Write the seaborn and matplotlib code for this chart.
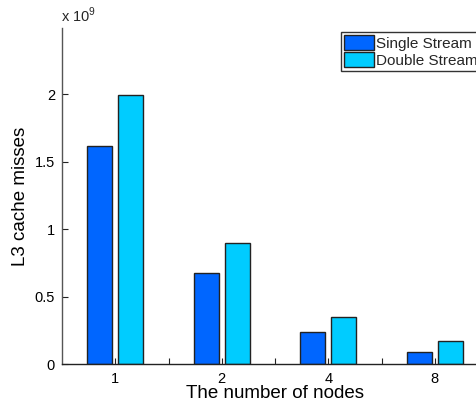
import matplotlib
matplotlib.use("Agg")
import matplotlib.pyplot as plt
import seaborn as sns
import pandas as pd
from matplotlib.ticker import FixedLocator

nodes = ["1", "2", "4", "8"]
single_stream = [1.613, 0.678, 0.234, 0.091]   # x 1e9
double_stream = [1.99, 0.893, 0.350, 0.168]    # x 1e9
series_names = ["Single Stream", "Double Stream"]
colors = ["#0066FF", "#00CCFF"]
y_ticks = [0, 0.5, 1, 1.5, 2]
y_tick_labels = ["0", "0.5", "1", "1.5", "2"]

sns.set_theme(style="white")
plt.rcParams["font.family"] = ["Liberation Sans", "DejaVu Sans"]
plt.rcParams["mathtext.fontset"] = "custom"
plt.rcParams["mathtext.rm"] = "Liberation Sans"

df = pd.DataFrame({
    "nodes": nodes * 2,
    "value": single_stream + double_stream,
    "series": [series_names[0]] * len(nodes) + [series_names[1]] * len(nodes),
})

fig = plt.figure(figsize=(4.77, 4.01), dpi=100)
ax = fig.add_axes([62 / 477, 37 / 401, 426 / 477, 336 / 401])

sns.barplot(data=df, x="nodes", y="value", hue="series", order=nodes,
            hue_order=series_names, palette=colors, width=0.58, gap=0.2,
            edgecolor="#222222", linewidth=1.0, saturation=1, ax=ax, legend=True)

ax.set_xlim(-0.5, 3.5)
ax.set_ylim(0, 2.49)
ax.set_yticks(y_ticks)
ax.set_yticklabels(y_tick_labels)
ax.xaxis.set_minor_locator(FixedLocator([0.5, 1.5, 2.5]))
ax.tick_params(axis="both", which="both", direction="in", length=4, width=0.8,
               colors="#222222", labelsize=10.5, labelcolor="black")
ax.tick_params(axis="x", which="major", pad=6, bottom=True)
ax.tick_params(axis="x", which="minor", bottom=True, length=4)
ax.tick_params(axis="y", left=True, pad=5)

for s in ["top", "right"]:
    ax.spines[s].set_visible(False)
ax.spines["left"].set_color("#555555")
ax.spines["bottom"].set_color("#222222")
ax.spines["left"].set_linewidth(1.0)
ax.spines["bottom"].set_linewidth(1.0)

ax.set_xlabel("The number of nodes", fontsize=13.5, labelpad=-1, color="black")
ax.set_ylabel("L3 cache misses", fontsize=13.5, labelpad=4, color="black",
              family=["Liberation Sans Narrow", "Liberation Sans", "DejaVu Sans"])

fig.text(61 / 477, 1 - 22 / 401, r"x 10$^{9}$", fontsize=10.5, ha="left", va="baseline")

leg = ax.legend(loc="upper left", bbox_to_anchor=(341 / 477, 1 - 32 / 401),
                bbox_transform=fig.transFigure, fontsize=11, frameon=True,
                fancybox=False, shadow=False, handlelength=1.95, handleheight=1.1,
                handletextpad=0.15, borderpad=0.2, labelspacing=0.1,
                borderaxespad=0, title=None)
leg.get_frame().set_edgecolor("black")
leg.get_frame().set_linewidth(1.0)
for h in leg.legend_handles:
    h.set_edgecolor("#222222")
    h.set_linewidth(1.0)

fig.savefig("out.png", dpi=100)
